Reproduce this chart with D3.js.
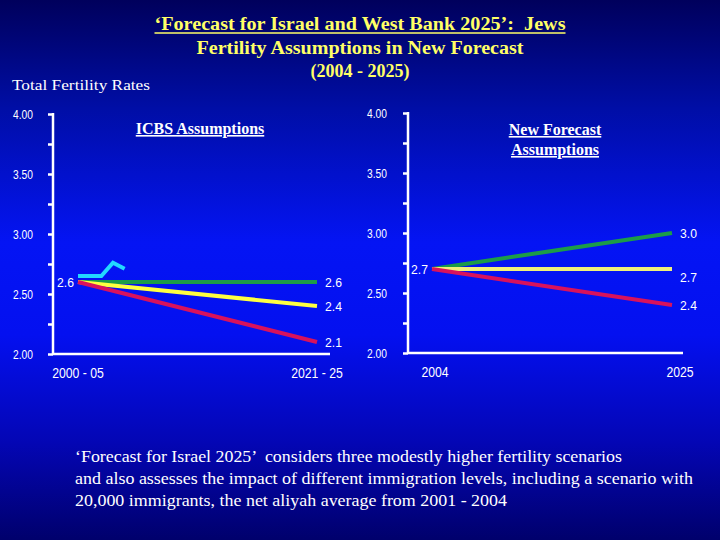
<!DOCTYPE html>
<html>
<head>
<meta charset="utf-8">
<script src="https://cdn.jsdelivr.net/npm/d3@7"></script>
<style>
  html, body { margin: 0; padding: 0; background: #000070; }
  svg { display: block; }
  text { white-space: pre; }
</style>
</head>
<body>
<svg id="chart" width="720" height="540"></svg>
<script>
// ---- data ----
var titleLines = ["\u2018Forecast for Israel and West Bank 2025\u2019:  Jews",
                  "Fertility Assumptions in New Forecast",
                  "(2004 - 2025)"];
var yLabel = "Total Fertility Rates";
var noteLines = ["\u2018Forecast for Israel 2025\u2019  considers three modestly higher fertility scenarios",
                 "and also assesses the impact of different immigration levels, including a scenario with",
                 "20,000 immigrants, the net aliyah average from 2001 - 2004"];

// left panel: ICBS assumptions (periods placed at their mid years)
var icbsPeriods = [2002.5, 2023];
var icbsPeriodLabels = ["2000 - 05", "2021 - 25"];
var icbsHigh = [2.6, 2.6];
var icbsMid = [2.6, 2.4];
var icbsLow = [2.6, 2.1];
// small observed line drawn at top-left of the ICBS panel
var observedYears = [2002.5, 2004.5, 2005.5, 2006.5];
var observedTfr = [2.65, 2.65, 2.76, 2.71];

// right panel: new forecast assumptions
var newYears = [2004, 2025];
var newYearLabels = ["2004", "2025"];
var newHigh = [2.7, 3.0];
var newMid = [2.7, 2.7];
var newLow = [2.7, 2.4];

var yTicks = [2.00, 2.25, 2.50, 2.75, 3.00, 3.25, 3.50, 3.75, 4.00];

var svg = d3.select('#chart');

// background gradient
var defs = svg.append('defs');
var grad = defs.append('linearGradient').attr('id', 'bg')
    .attr('x1', 0).attr('y1', 0).attr('x2', 0).attr('y2', 1);
[[0, '#00005c'], [0.2, '#000ea6'], [0.45, '#0414f4'], [0.62, '#0410f0'], [0.82, '#0406b4'], [1, '#00006c']]
    .forEach(function (s) {
        grad.append('stop').attr('offset', s[0]).attr('stop-color', s[1]);
    });
svg.append('rect').attr('width', 720).attr('height', 540).attr('fill', 'url(#bg)');

var serif = '"Liberation Serif", "Times New Roman", serif';
var sans = '"Liberation Sans", Arial, sans-serif';

// squeeze sans text to look like Arial Narrow
function narrowify(sel, k) {
    sel.each(function () {
        var w = this.getComputedTextLength();
        if (w > 0) {
            d3.select(this).attr('textLength', w * k).attr('lengthAdjust', 'spacingAndGlyphs');
        }
    });
}

// titles
var titleSpecs = [
    { y: 30, len: 411, under: true },
    { y: 54, len: 327, under: false },
    { y: 77, len: 99, under: false }
];
titleLines.forEach(function (t, i) {
    var s = titleSpecs[i];
    svg.append('text')
        .attr('x', 360).attr('y', s.y)
        .attr('text-anchor', 'middle')
        .attr('font-family', serif).attr('font-weight', 'bold')
        .attr('font-size', 18).attr('fill', '#ffff66')
        .attr('textLength', s.len).attr('lengthAdjust', 'spacingAndGlyphs')
        .text(t);
    if (s.under) {
        svg.append('line')
            .attr('x1', 360 - s.len / 2).attr('x2', 360 + s.len / 2)
            .attr('y1', s.y + 3).attr('y2', s.y + 3)
            .attr('stroke', '#ffff66').attr('stroke-width', 1.3);
    }
});

svg.append('text')
    .attr('x', 12).attr('y', 90)
    .attr('font-family', serif).attr('font-size', 15).attr('fill', '#fff')
    .attr('textLength', 138).attr('lengthAdjust', 'spacingAndGlyphs')
    .text(yLabel);

// colours of the three scenarios
var colHigh = '#1c9c48', colLow = '#d8125c';

function drawPanel(opt) {
    var g = svg.append('g');
    var x = d3.scaleLinear().domain(opt.xDomain).range(opt.xRange);
    var y = d3.scaleLinear().domain([2, 4]).range([opt.yBottom, opt.yTop]);

    // y axis
    var yAxis = d3.axisLeft(y)
        .tickValues(yTicks)
        .tickSize(5)
        .tickPadding(opt.tickPad)
        .tickFormat(function (d) { return (d * 2) % 1 === 0 ? d3.format('.2f')(d) : ''; });
    var ya = g.append('g').attr('transform', 'translate(' + opt.axisX + ',0)').call(yAxis);
    ya.select('.domain').remove();
    ya.selectAll('line').attr('stroke', '#fff').attr('stroke-width', 2.5);
    ya.selectAll('text').attr('fill', '#fff').attr('font-family', sans).attr('font-size', 12.5);
    narrowify(ya.selectAll('text'), 0.82);
    g.append('line')
        .attr('x1', opt.axisX).attr('x2', opt.axisX)
        .attr('y1', y(4) - 1).attr('y2', y(2))
        .attr('stroke', '#fff').attr('stroke-width', 2.5);
    // x axis line
    g.append('line')
        .attr('x1', opt.axisX).attr('x2', opt.axisEnd)
        .attr('y1', y(2)).attr('y2', y(2))
        .attr('stroke', '#fff').attr('stroke-width', 2.5);

    // category labels
    var cats = g.selectAll('text.cat').data(opt.xValues).enter().append('text')
        .attr('class', 'cat')
        .attr('x', function (d, i) { return x(d) + opt.catShift[i]; })
        .attr('y', y(2) + 24)
        .attr('text-anchor', 'middle')
        .attr('font-family', sans).attr('font-size', 15.3).attr('fill', '#fff')
        .text(function (d, i) { return opt.xLabels[i]; });
    narrowify(cats, 0.8);

    // panel subtitle
    opt.subtitle.forEach(function (t, i) {
        g.append('text')
            .attr('x', opt.subX).attr('y', opt.subY + i * 20)
            .attr('text-anchor', 'middle')
            .attr('font-family', serif).attr('font-weight', 'bold')
            .attr('font-size', 16).attr('fill', '#fff')
            .attr('text-decoration', 'underline')
            .text(t);
    });

    var line = d3.line()
        .x(function (d) { return x(d[0]); })
        .y(function (d) { return y(d[1]); });

    if (opt.extra) {
        g.append('path')
            .datum(d3.zip(opt.extra.x, opt.extra.y))
            .attr('d', line)
            .attr('fill', 'none').attr('stroke', opt.extra.color)
            .attr('stroke-width', 4);
    }

    opt.series.forEach(function (s) {
        g.append('path')
            .datum(d3.zip(opt.xValues, s.values))
            .attr('d', line)
            .attr('fill', 'none').attr('stroke', s.color)
            .attr('stroke-width', 4);
    });

    // start label
    var first = opt.series[0].values[0];
    var st = g.append('text')
        .attr('x', x(opt.xValues[0]) - 4).attr('y', y(first))
        .attr('dy', '0.36em')
        .attr('text-anchor', 'end')
        .attr('font-family', sans).attr('font-size', 13.5).attr('fill', '#fff')
        .text(d3.format('.1f')(first));
    narrowify(st, 0.9);

    // end labels
    opt.series.forEach(function (s) {
        var v = s.values[s.values.length - 1];
        var t = g.append('text')
            .attr('x', x(opt.xValues[opt.xValues.length - 1]) + 8)
            .attr('y', y(v) + (s.labelDrop || 0))
            .attr('dy', '0.36em')
            .attr('font-family', sans).attr('font-size', 13.5).attr('fill', '#fff')
            .text(d3.format('.1f')(v));
        narrowify(t, 0.9);
    });
}

drawPanel({
    xDomain: [icbsPeriods[0], icbsPeriods[1]], xRange: [78, 317],
    yTop: 114, yBottom: 354, axisX: 53, axisEnd: 330, tickPad: 15,
    xValues: icbsPeriods, xLabels: icbsPeriodLabels, catShift: [0, 0],
    subtitle: ["ICBS Assumptions"], subX: 200, subY: 134,
    extra: { x: observedYears, y: observedTfr, color: '#22d8ff' },
    series: [
        { values: icbsHigh, color: colHigh },
        { values: icbsMid, color: '#ffff40' },
        { values: icbsLow, color: colLow }
    ]
});

drawPanel({
    xDomain: [newYears[0], newYears[1]], xRange: [432, 672],
    yTop: 113, yBottom: 353, axisX: 408, axisEnd: 683, tickPad: 16,
    xValues: newYears, xLabels: newYearLabels, catShift: [3, 8],
    subtitle: ["New Forecast", "Assumptions"], subX: 555, subY: 135,
    series: [
        { values: newHigh, color: colHigh },
        { values: newMid, color: '#f0f07a', labelDrop: 8 },
        { values: newLow, color: colLow }
    ]
});

// note at the bottom
var noteLens = [547, 618, 432];
noteLines.forEach(function (t, i) {
    svg.append('text')
        .attr('x', 75).attr('y', 462 + i * 22)
        .attr('font-family', serif).attr('font-size', 17).attr('fill', '#fff')
        .attr('textLength', noteLens[i]).attr('lengthAdjust', 'spacingAndGlyphs')
        .text(t);
});
</script>
</body>
</html>
